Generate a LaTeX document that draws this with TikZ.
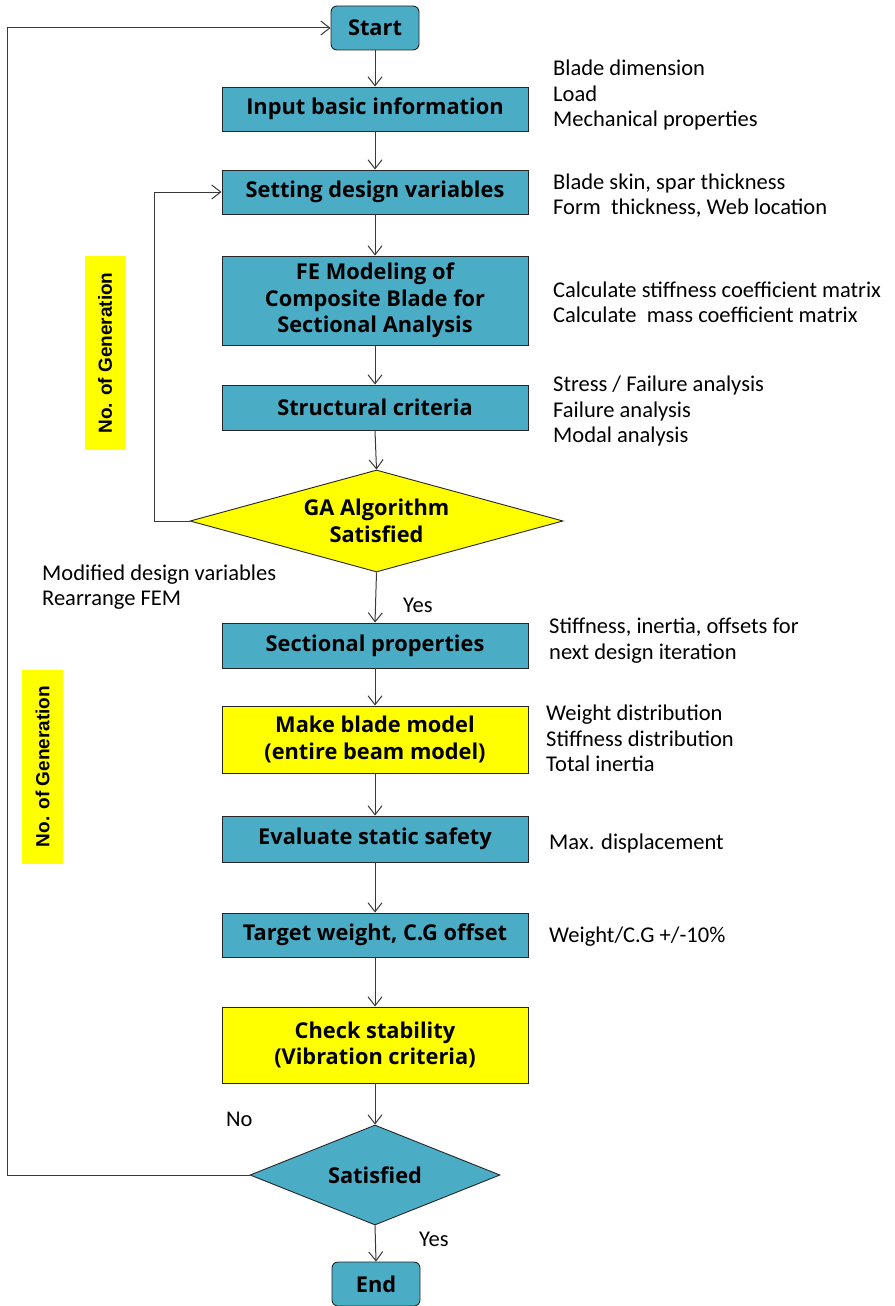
\documentclass[tikz,border=0pt]{standalone}
\usepackage{fontspec}
\setmainfont{Carlito}
\newfontfamily\boxfont{Open Sans}
\newfontfamily\sidefont{Liberation Sans}
\usetikzlibrary{shapes.geometric,arrows.meta}
\definecolor{boxblue}{HTML}{4BACC6}
\definecolor{boxyellow}{HTML}{FFFF00}
\definecolor{linegray}{HTML}{383838}
\begin{document}
\begin{tikzpicture}[x=1pt,y=-1pt,
  boxtext/.style={font=\boxfont\bfseries\fontsize{21.8}{26.5}\selectfont, align=center, text=black},
  proc/.style={boxtext, draw=black!85, line width=0.9pt, fill=boxblue, minimum width=306pt, minimum height=44pt, inner sep=0pt},
  yproc/.style={proc, fill=boxyellow},
  term/.style={boxtext, draw=black!85, line width=0.9pt, fill=boxblue, rounded corners=6pt, minimum width=88pt, minimum height=44pt, inner sep=0pt},
  dec/.style={boxtext, draw=black!85, line width=0.9pt, diamond, inner sep=0pt},
  note/.style={font=\fontsize{22.5}{25.5}\selectfont, align=left, anchor=west, inner sep=0pt, text=black},
  side/.style={font=\sidefont\bfseries\fontsize{19}{21}\selectfont, fill=boxyellow, rotate=90, minimum width=194pt, minimum height=41pt, inner sep=0pt},
  arr/.style={-{Straight Barb[length=9pt,width=14pt,line width=1pt]}, draw=linegray, line width=1pt},
]
\useasboundingbox (0,0) rectangle (894,1306);

% nodes
\node[term] (start) at (375,28) {Start};
\node[proc] (inp) at (375,109) {Input basic information};
\node[proc] (set) at (375,192) {Setting design variables};
\node[proc, minimum height=89pt] (fem) at (375,300.5) {FE Modeling of\\Composite Blade for\\Sectional Analysis};
\node[proc, minimum height=45pt] (str) at (375,407.5) {Structural criteria};
\node[dec, fill=boxyellow, minimum width=373pt, minimum height=102pt, aspect=3.66] (ga) at (376.5,521) {GA Algorithm\\Satisfied};
\node[proc, minimum height=45pt] (sec) at (375,645.5) {Sectional properties};
\node[yproc, minimum height=67pt] (mbm) at (375,739.5) {Make blade model\\(entire beam model)};
\node[proc, minimum height=46pt] (ess) at (375,839) {Evaluate static safety};
\node[proc] (tw) at (375,935) {Target weight, C.G offset};
\node[yproc, minimum height=76pt] (chk) at (375,1045) {Check stability\\(Vibration criteria)};
\node[dec, fill=boxblue, minimum width=250pt, minimum height=100pt, aspect=2.5] (sat) at (375,1175) {Satisfied};
\node[term] (fin) at (376,1284) {End};

% side labels
\node[side] (g1) at (105,353) {No. of Generation};
\node[side] (g2) at (42.5,766.5) {No. of Generation};

% notes
\node[note] (n1) at (553,95.5) {Blade dimension\\Load\\Mechanical properties};
\node[note] (n2) at (553,195.5) {Blade skin, spar thickness\\Form\ \ thickness, Web location};
\node[note] (n3) at (553,302.5) {Calculate stiffness coefficient matrix\\Calculate\ \ mass coefficient matrix};
\node[note] (n4) at (553,411) {Stress / Failure analysis\\Failure analysis\\Modal analysis};
\node[note] (n5) at (549,640.5) {Stiffness, inertia, offsets for\\next design iteration};
\node[note] (n6) at (546,738.5) {Weight distribution\\Stiffness distribution\\Total inertia};
\node[note] (n7) at (549,843) {Max. displacement};
\node[note] (n8) at (549,937) {Weight/C.G +/-10\%};
\node[note] (n9) at (42,587) {Modified design variables\\Rearrange FEM};
\node[note] (y1) at (403,605) {Yes};
\node[note] (no1) at (226,1119) {No};
\node[note] (y2) at (419,1239) {Yes};

% connectors
\draw[arr] (start) -- (inp);
\draw[arr] (inp) -- (set);
\draw[arr] (set) -- (fem);
\draw[arr] (fem) -- (str);
\draw[arr] (str.south) -- (ga.north);
\draw[arr] (ga.south) -- (sec.north);
\draw[arr] (sec) -- (mbm);
\draw[arr] (mbm) -- (ess);
\draw[arr] (ess) -- (tw);
\draw[arr] (tw) -- (chk);
\draw[arr] (chk.south) -- (sat.north);
\draw[arr] (sat.south) -- (fin.north);

\coordinate (c1) at (154,521);
\draw[arr] (ga.west) -- (c1) |- (set.west);
\coordinate (c2) at (7,1175);
\draw[arr] (sat.west) -- (c2) |- (start.west);
\end{tikzpicture}
\end{document}
